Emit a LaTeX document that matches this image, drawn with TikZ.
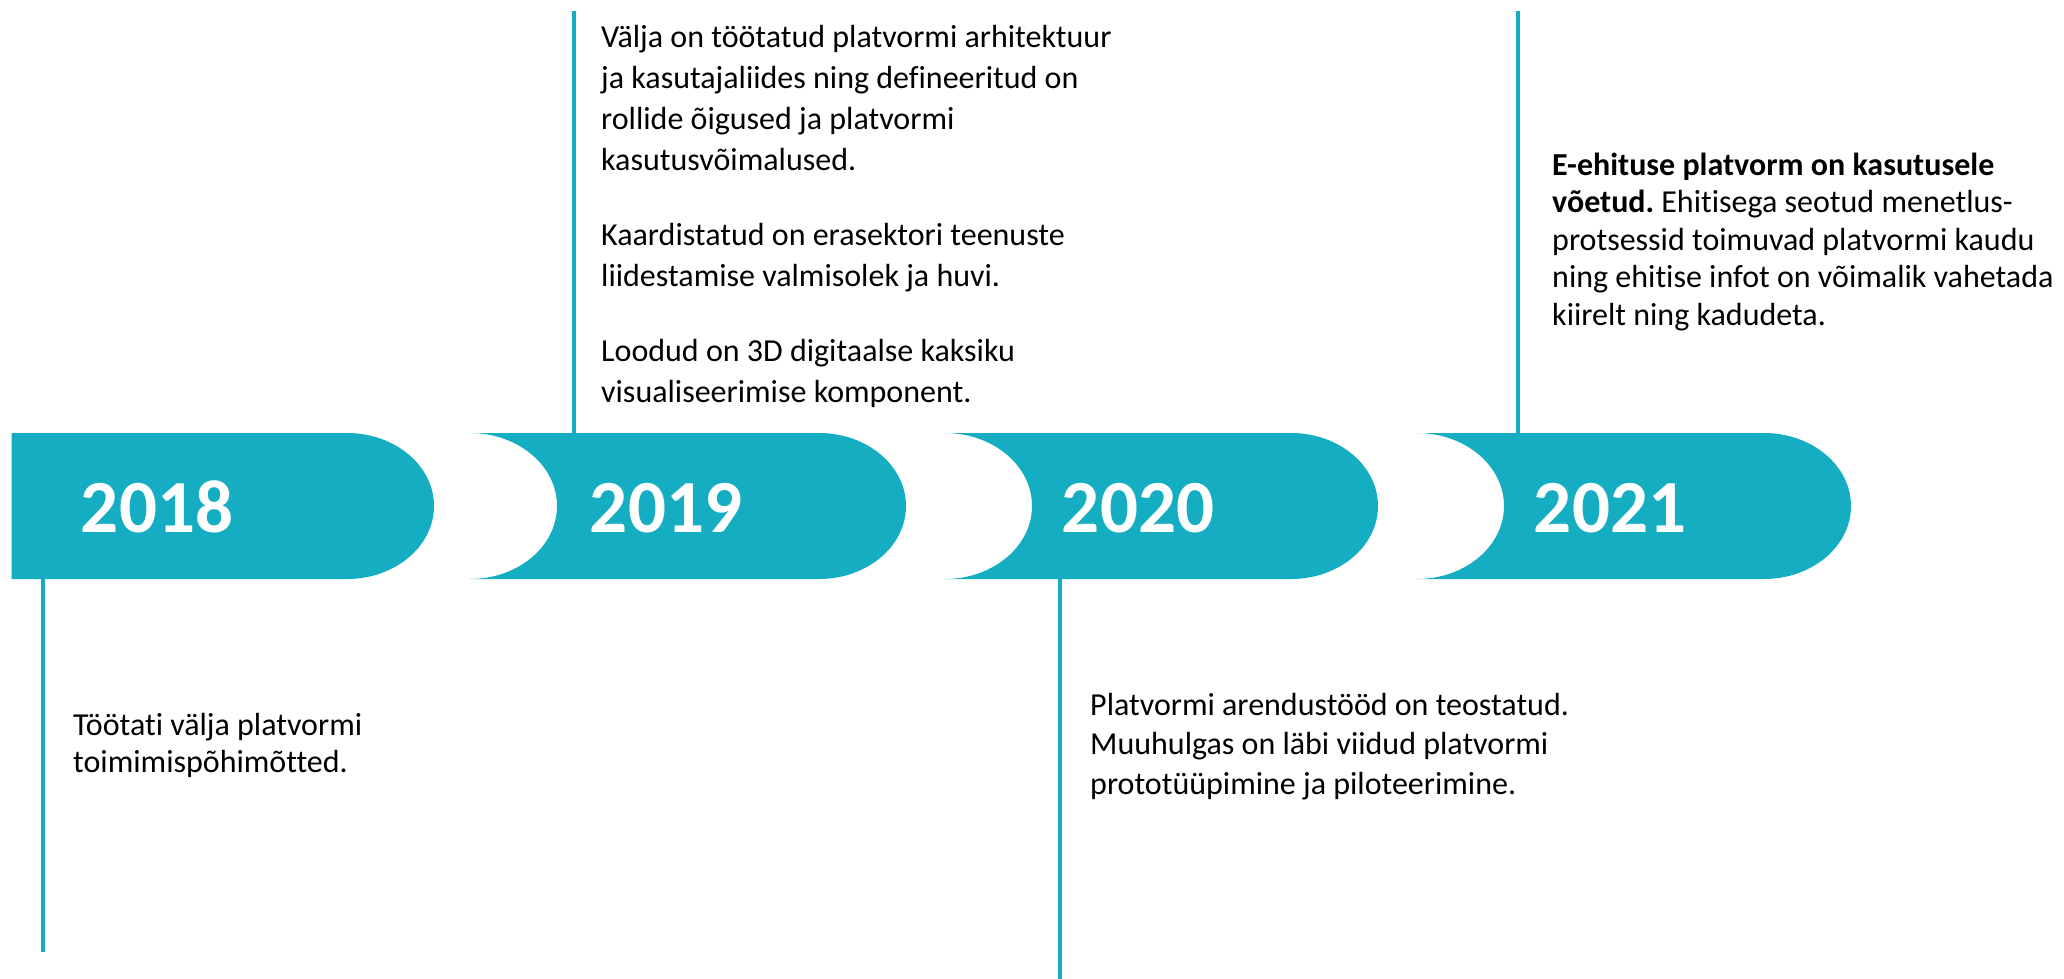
\documentclass[tikz,border=0pt]{standalone}
\usepackage{fontspec}
\setmainfont{Carlito}[Ligatures=NoCommon]
\definecolor{tealc}{RGB}{21,173,194}
\frenchspacing
\begin{document}
\begin{tikzpicture}[x=1pt,y=-1pt,
  band/.style={fill=tealc},
  stem/.style={draw=tealc,line width=4pt},
  year/.style={text=white,font=\fontsize{75}{90}\selectfont\bfseries,anchor=base,inner sep=0pt},
  desc/.style={anchor=base west,align=left,inner sep=0pt,text=black}]
\useasboundingbox (0,0) rectangle (2064,979);
% bands
\fill[band] (11.7,433) -- (347,433) arc[start angle=90,end angle=-90,x radius=87pt,y radius=73pt] -- (11.7,579) -- cycle;
\fill[band] (470,433) -- (819,433) arc[start angle=90,end angle=-90,x radius=87pt,y radius=73pt] -- (470,579) arc[start angle=-90,end angle=90,x radius=87pt,y radius=73pt] -- cycle;
\fill[band] (945,433) -- (1291,433) arc[start angle=90,end angle=-90,x radius=87pt,y radius=73pt] -- (945,579) arc[start angle=-90,end angle=90,x radius=87pt,y radius=73pt] -- cycle;
\fill[band] (1417,433) -- (1764,433) arc[start angle=90,end angle=-90,x radius=87pt,y radius=73pt] -- (1417,579) arc[start angle=-90,end angle=90,x radius=87pt,y radius=73pt] -- cycle;
% year labels
\node[year] (y2018) at (157,532) {2018};
\node[year] (y2019) at (666,532) {2019};
\node[year] (y2020) at (1138,532) {2020};
\node[year] (y2021) at (1610,532) {2021};
% stems
\coordinate (s1a) at (43,579); \coordinate (s1b) at (43,952);
\coordinate (s2a) at (574,433); \coordinate (s2b) at (574,11);
\coordinate (s3a) at (1060,579); \coordinate (s3b) at (1060,979);
\coordinate (s4a) at (1518,433); \coordinate (s4b) at (1518,11);
\draw[stem] (s1a) -- (s1b);
\draw[stem] (s2a) -- (s2b);
\draw[stem] (s3a) -- (s3b);
\draw[stem] (s4a) -- (s4b);
% descriptions (anchor = baseline of the last line)
\node[desc,font=\fontsize{32}{37}\selectfont] (t2018) at (73,772) {Töötati välja platvormi\\toimimispõhimõtted.};
\node[desc,font=\fontsize{32}{41}\selectfont] (t2019) at (601,402) {Välja on töötatud platvormi arhitektuur\\ja kasutajaliides ning defineeritud on\\rollide õigused ja platvormi\\kasutusvõimalused.\\[34pt]Kaardistatud on erasektori teenuste\\liidestamise valmisolek ja huvi.\\[34pt]Loodud on 3D digitaalse kaksiku\\visualiseerimise komponent.};
\node[desc,font=\fontsize{32}{39.5}\selectfont] (t2020) at (1090,794) {Platvormi arendustööd on teostatud.\\Muuhulgas on läbi viidud platvormi\\prototüüpimine ja piloteerimine.};
\node[desc,font=\fontsize{32}{37.5}\selectfont] (t2021) at (1552,325) {\textbf{E-ehituse platvorm on kasutusele}\\\textbf{võetud.} Ehitisega seotud menetlus-\\protsessid toimuvad platvormi kaudu\\ning ehitise infot on võimalik vahetada\\kiirelt ning kadudeta.};
\end{tikzpicture}
\end{document}
